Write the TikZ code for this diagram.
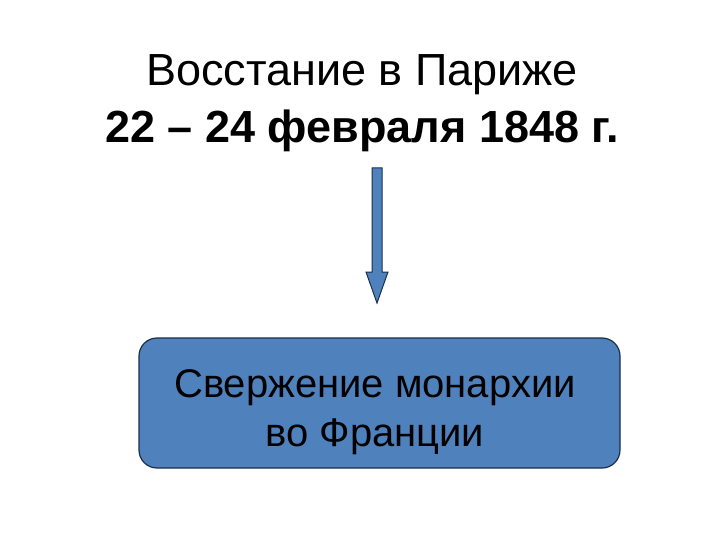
\documentclass[tikz,border=0pt]{standalone}
\usepackage{fontspec}
\setmainfont{Liberation Sans}
\definecolor{boxblue}{HTML}{4F81BD}
\definecolor{edgeblue}{HTML}{1B2F4A}
\begin{document}
\begin{tikzpicture}[x=1pt,y=-1pt,
  title/.style={font=\fontsize{45}{54}\selectfont, align=center, inner sep=0pt},
  resultbox/.style={draw=edgeblue, line width=1.2pt, fill=boxblue, rounded corners=18pt,
    minimum width=481pt, minimum height=130pt, inner sep=0pt},
  boxtext/.style={font=\fontsize{40}{48}\selectfont, inner sep=0pt, anchor=base}]
\useasboundingbox[fill=white] (0,0) rectangle (720,540);
\node[title, anchor=base] (t1) at (362,86) {Восстание в Париже};
\node[title, anchor=base, font=\fontsize{45}{54}\selectfont\bfseries] (t2) at (362,143) {22 – 24 февраля 1848 г.};
\node[resultbox] (res) at (379.5,403) {};
\node[boxtext] (r1) at (375,397) {Свержение монархии};
\node[boxtext] (r2) at (375,446) {во Франции};
\draw[draw=edgeblue, line width=1pt, fill=boxblue]
  (372,168) -- (382,168) -- (382,272) -- (388,272) -- (377,303) -- (366,272) -- (372,272) -- cycle;
\end{tikzpicture}
\end{document}
